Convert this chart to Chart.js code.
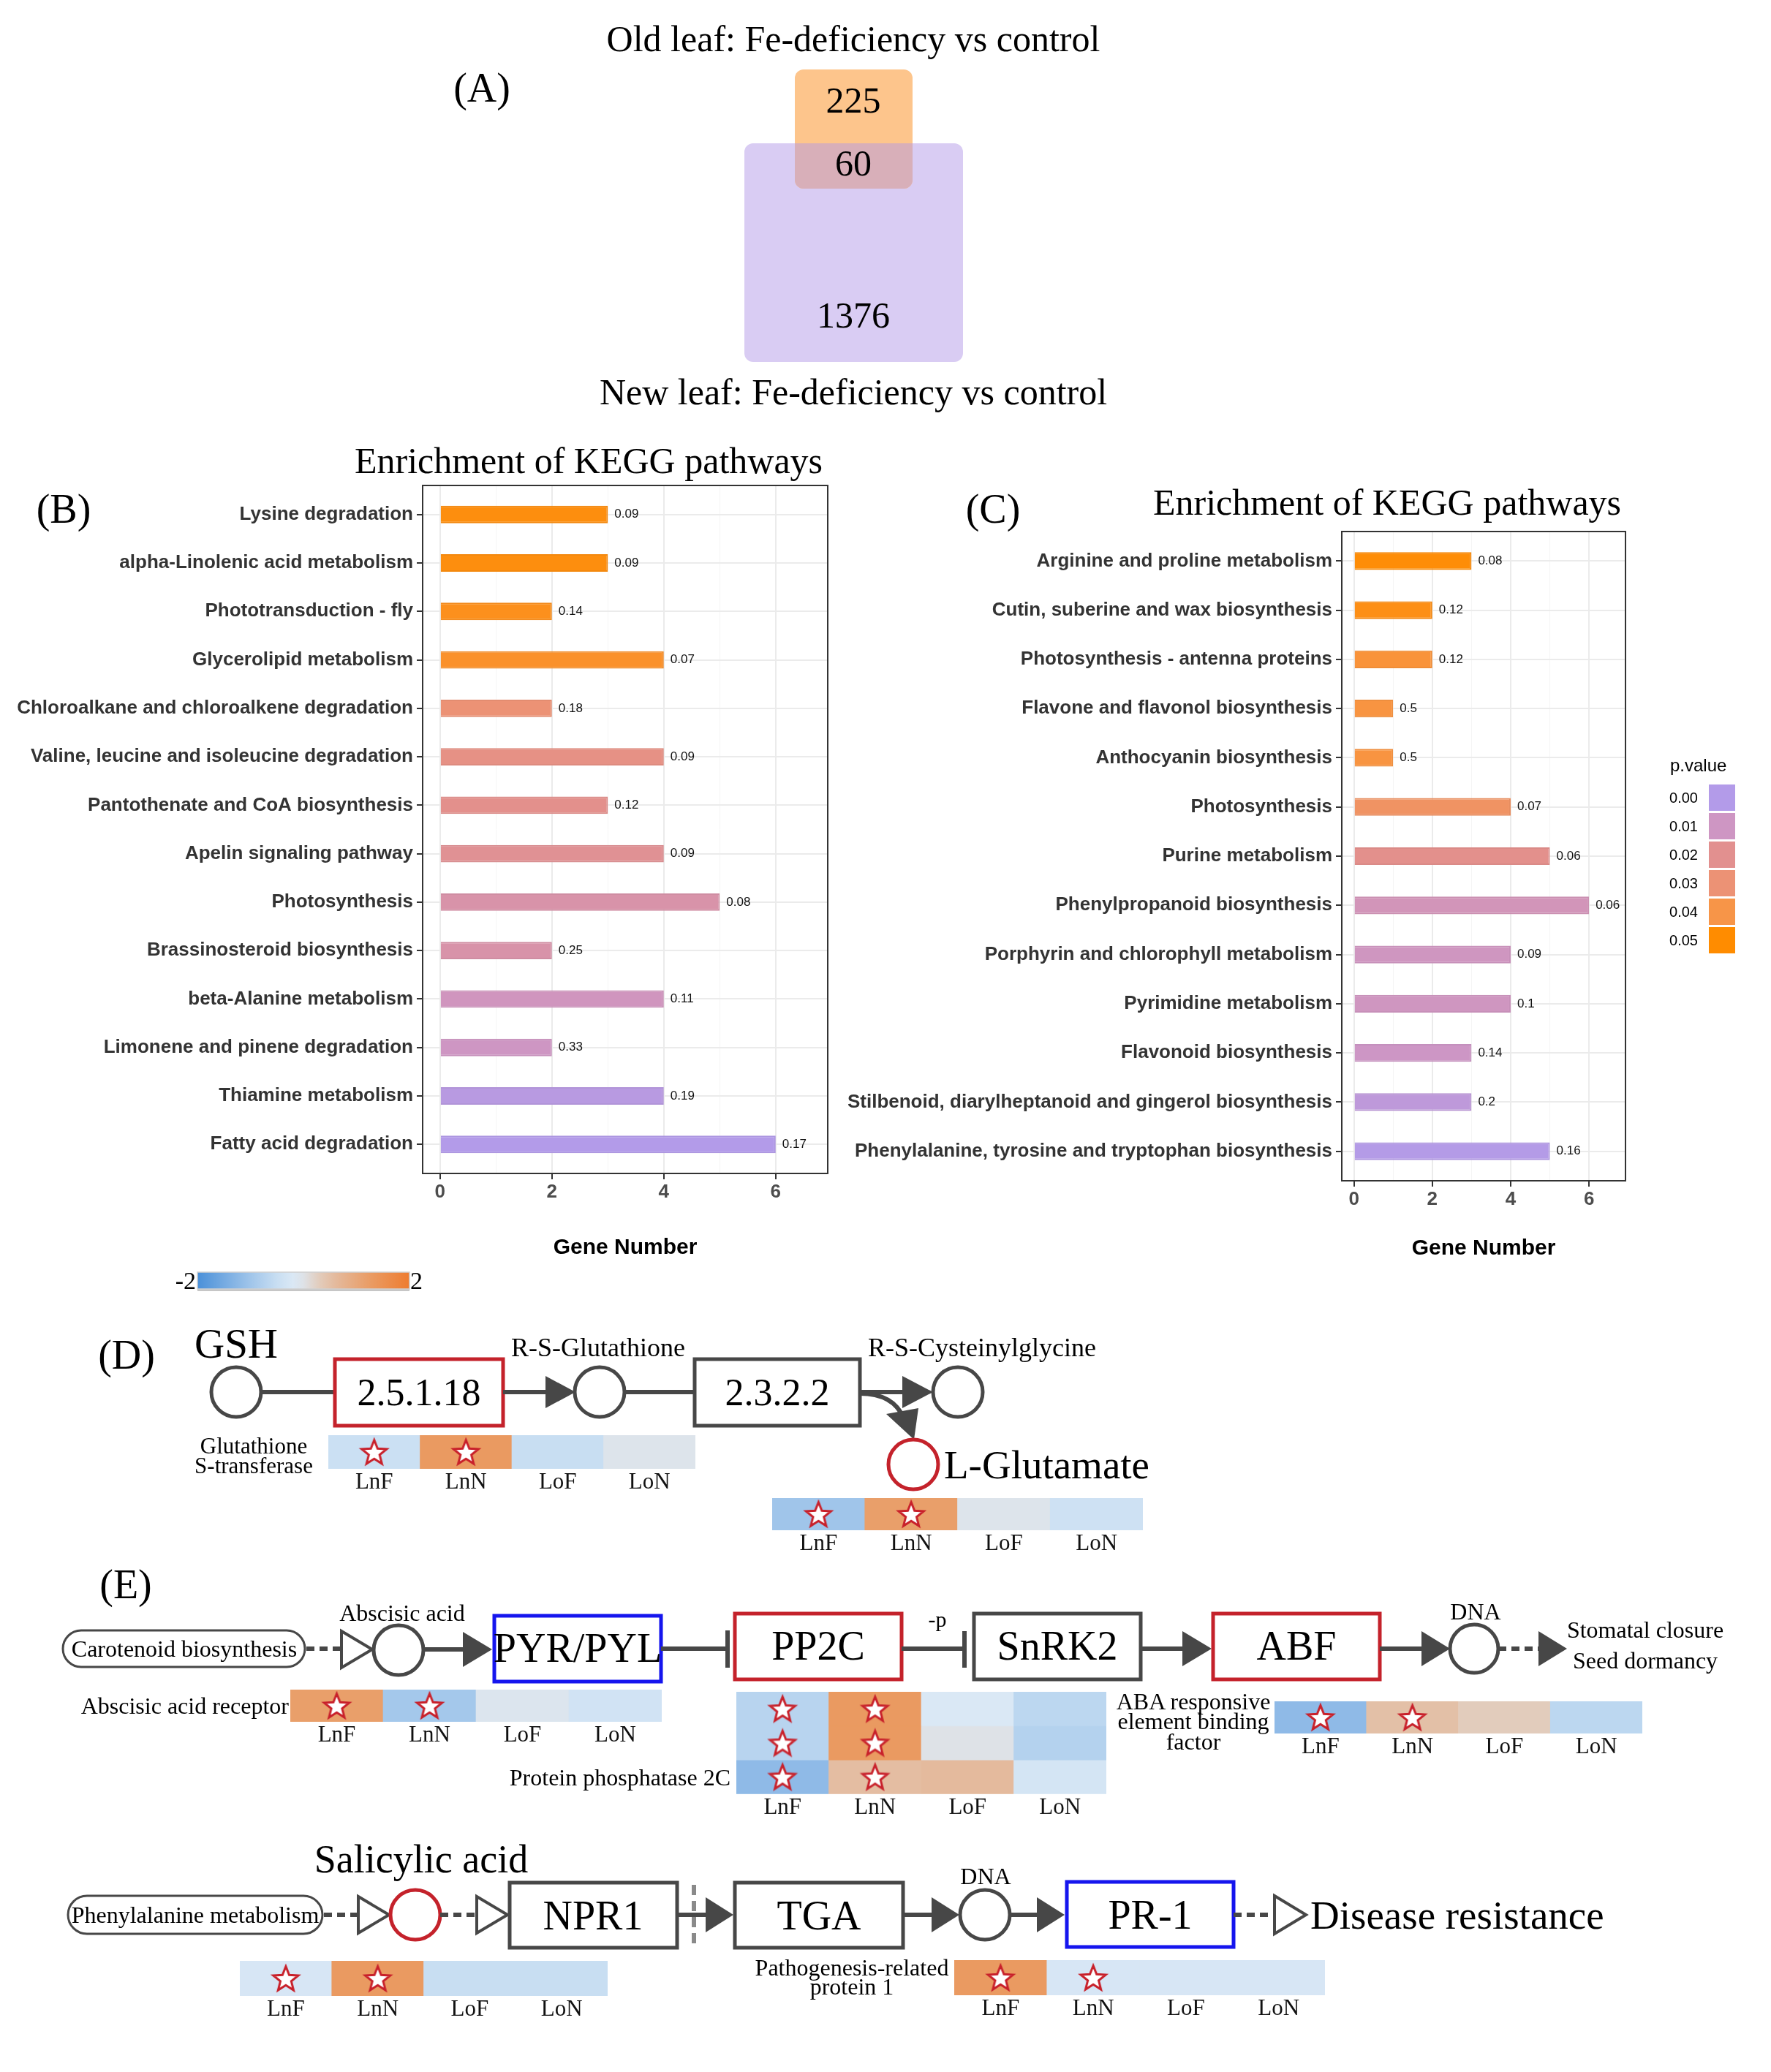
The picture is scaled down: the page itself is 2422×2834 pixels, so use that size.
<!DOCTYPE html>
<html lang="en">
<head>
<meta charset="UTF-8">
<title>Fe-deficiency: DEGs, KEGG enrichment and pathways</title>
<script src="https://cdn.jsdelivr.net/npm/chart.js"></script>
<style>
  html, body { margin: 0; padding: 0; background: #fff; }
  #page { position: relative; width: 2422px; height: 2834px; overflow: hidden; background: #fff; }
  .holder { position: absolute; }
  #art { position: absolute; left: 0; top: 0; pointer-events: none; }
  #art text { font-family: 'Liberation Serif', 'Times New Roman', serif; fill: #000; }
  #art .sans { font-family: 'Liberation Sans', Arial, sans-serif; }
  .ln { stroke: #474747; stroke-width: 6; fill: none; }
  .dash { stroke-dasharray: 11 7; }
  .node { fill: #fff; stroke: #474747; stroke-width: 5; }
  .pill { fill: #fff; stroke: #474747; stroke-width: 3; }
  .red { stroke: #C4222B; }
  .blue { stroke: #1515EE; }
  .head { fill: #474747; }
  .open { fill: #fff; stroke: #474747; stroke-width: 4; stroke-linejoin: miter; }
</style>
</head>
<body>
<div id="page">
  <div class="holder" style="left:0;top:640px;width:1160px;height:1085px"><canvas id="chartB"></canvas></div>
  <div class="holder" style="left:1160px;top:700px;width:1080px;height:1026px"><canvas id="chartC"></canvas></div>

  <svg id="art" width="2422" height="2834" xmlns="http://www.w3.org/2000/svg">
    <defs>
      <linearGradient id="heatGrad" x1="0" x2="1" y1="0" y2="0"></linearGradient>
      <clipPath id="newClip"><rect x="1018" y="196" width="299" height="299" rx="12"/></clipPath>
    </defs>

    <!-- (A) -->
    <text x="659" y="139" font-size="56" text-anchor="middle">(A)</text>
    <g id="venn"></g>

    <!-- (B) / (C) titles -->
    <text x="87" y="715" font-size="56" text-anchor="middle">(B)</text>
    <text x="805" y="647" font-size="50" text-anchor="middle">Enrichment of KEGG pathways</text>
    <text x="1358" y="715" font-size="56" text-anchor="middle">(C)</text>
    <text x="1897" y="704" font-size="50" text-anchor="middle">Enrichment of KEGG pathways</text>
    <g id="pLegend"></g>

    <!-- colour key -->
    <rect x="270" y="1762" width="290" height="4" fill="#c6c6c6"/>
    <rect x="270" y="1740" width="290" height="23" fill="url(#heatGrad)" stroke="#d0d0d0" stroke-width="1.5"/>
    <text x="268" y="1763" font-size="34" text-anchor="end">-2</text>
    <text x="561" y="1763" font-size="34">2</text>

    <!-- (D) glutathione metabolism -->
    <text x="173" y="1872" font-size="56" text-anchor="middle">(D)</text>
    <text x="323" y="1857" font-size="57" text-anchor="middle">GSH</text>
    <line class="ln" x1="357" y1="1904" x2="458" y2="1904"/>
    <circle class="node" cx="323" cy="1904" r="34"/>
    <rect class="node red" x="458" y="1859" width="230" height="91"/>
    <text x="573" y="1922" font-size="52" text-anchor="middle">2.5.1.18</text>
    <line class="ln" x1="688" y1="1904" x2="750" y2="1904"/>
    <polygon class="head" points="746,1882 787,1904 746,1926"/>
    <circle class="node" cx="820" cy="1904" r="34"/>
    <text x="818" y="1855" font-size="36" text-anchor="middle">R-S-Glutathione</text>
    <line class="ln" x1="854" y1="1904" x2="950" y2="1904"/>
    <rect class="node" x="950" y="1859" width="226" height="91"/>
    <text x="1063" y="1922" font-size="52" text-anchor="middle">2.3.2.2</text>
    <line class="ln" x1="1176" y1="1904" x2="1238" y2="1904"/>
    <polygon class="head" points="1234,1882 1276,1904 1234,1926"/>
    <circle class="node" cx="1310" cy="1904" r="34"/>
    <text x="1343" y="1855" font-size="36" text-anchor="middle">R-S-Cysteinylglycine</text>
    <path class="ln" d="M1176,1906 Q1222,1906 1236,1940"/>
    <polygon class="head" points="1212,1934 1256,1926 1250,1969"/>
    <circle class="node red" cx="1249" cy="2003" r="34"/>
    <text x="1291" y="2022" font-size="55">L-Glutamate</text>
    <text x="347" y="1988" font-size="31" text-anchor="middle">Glutathione</text>
    <text x="347" y="2015" font-size="31" text-anchor="middle">S-transferase</text>

    <!-- (E) ABA signalling -->
    <text x="172" y="2186" font-size="56" text-anchor="middle">(E)</text>
    <rect class="pill" x="86" y="2230" width="331" height="50" rx="25"/>
    <text x="252" y="2266" font-size="32" text-anchor="middle">Carotenoid biosynthesis</text>
    <line class="ln dash" x1="419" y1="2255" x2="467" y2="2255"/>
    <polygon class="open" points="467,2231 509,2256 467,2281"/>
    <circle class="node" cx="545" cy="2257" r="34"/>
    <text x="550" y="2217" font-size="32" text-anchor="middle">Abscisic acid</text>
    <line class="ln" x1="579" y1="2256" x2="636" y2="2256"/>
    <polygon class="head" points="633,2232 673,2256 633,2280"/>
    <rect class="node blue" x="676" y="2210" width="228" height="90"/>
    <text x="790" y="2273" font-size="56" text-anchor="middle">PYR/PYL</text>
    <line class="ln" x1="904" y1="2255" x2="995" y2="2255"/>
    <line class="ln" x1="995" y1="2230" x2="995" y2="2281"/>
    <rect class="node red" x="1005" y="2207" width="228" height="90"/>
    <text x="1119" y="2270" font-size="56" text-anchor="middle">PP2C</text>
    <text x="1282" y="2225" font-size="30" text-anchor="middle">-p</text>
    <line class="ln" x1="1233" y1="2255" x2="1319" y2="2255"/>
    <line class="ln" x1="1319" y1="2231" x2="1319" y2="2281"/>
    <rect class="node" x="1332" y="2207" width="228" height="90"/>
    <text x="1446" y="2270" font-size="56" text-anchor="middle">SnRK2</text>
    <line class="ln" x1="1560" y1="2255" x2="1620" y2="2255"/>
    <polygon class="head" points="1617,2231 1657,2255 1617,2279"/>
    <rect class="node red" x="1659" y="2207" width="228" height="90"/>
    <text x="1773" y="2270" font-size="56" text-anchor="middle">ABF</text>
    <line class="ln" x1="1887" y1="2255" x2="1946" y2="2255"/>
    <polygon class="head" points="1944,2231 1983,2255 1944,2279"/>
    <circle class="node" cx="2016" cy="2255" r="33"/>
    <text x="2018" y="2215" font-size="32" text-anchor="middle">DNA</text>
    <line class="ln dash" x1="2049" y1="2255" x2="2106" y2="2255"/>
    <polygon class="head" points="2104,2231 2143,2255 2104,2279"/>
    <text x="2250" y="2240" font-size="32" text-anchor="middle">Stomatal closure</text>
    <text x="2250" y="2282" font-size="32" text-anchor="middle">Seed dormancy</text>
    <text x="395" y="2344" font-size="32" text-anchor="end">Abscisic acid receptor</text>
    <text x="999" y="2442" font-size="32" text-anchor="end">Protein phosphatase 2C</text>
    <text x="1632" y="2338" font-size="32" text-anchor="middle">ABA responsive</text>
    <text x="1632" y="2365" font-size="32" text-anchor="middle">element binding</text>
    <text x="1632" y="2393" font-size="32" text-anchor="middle">factor</text>

    <!-- salicylic acid signalling -->
    <text x="576" y="2561" font-size="54" text-anchor="middle">Salicylic acid</text>
    <rect class="pill" x="93" y="2593" width="348" height="52" rx="26"/>
    <text x="267" y="2630" font-size="32" text-anchor="middle">Phenylalanine metabolism</text>
    <line class="ln dash" x1="443" y1="2619" x2="490" y2="2619"/>
    <polygon class="open" points="490,2594 532,2619 490,2644"/>
    <circle class="node red" cx="568" cy="2619" r="34"/>
    <line class="ln dash" x1="602" y1="2619" x2="652" y2="2619"/>
    <polygon class="open" points="652,2594 694,2619 652,2644"/>
    <rect class="node" x="697" y="2575" width="229" height="89"/>
    <text x="811" y="2639" font-size="56" text-anchor="middle">NPR1</text>
    <line x1="949" y1="2578" x2="949" y2="2658" stroke="#8a8a8a" stroke-width="6" stroke-dasharray="14 8"/>
    <line class="ln" x1="926" y1="2619" x2="967" y2="2619"/>
    <polygon class="head" points="965,2595 1003,2619 965,2643"/>
    <rect class="node" x="1005" y="2575" width="230" height="89"/>
    <text x="1120" y="2639" font-size="56" text-anchor="middle">TGA</text>
    <line class="ln" x1="1235" y1="2619" x2="1276" y2="2619"/>
    <polygon class="head" points="1274,2595 1312,2619 1274,2643"/>
    <circle class="node" cx="1347" cy="2619" r="34"/>
    <text x="1348" y="2577" font-size="32" text-anchor="middle">DNA</text>
    <line class="ln" x1="1381" y1="2619" x2="1420" y2="2619"/>
    <polygon class="head" points="1418,2595 1456,2619 1418,2643"/>
    <rect class="node blue" x="1459" y="2574" width="228" height="89"/>
    <text x="1573" y="2638" font-size="56" text-anchor="middle">PR-1</text>
    <line class="ln dash" x1="1687" y1="2619" x2="1743" y2="2619"/>
    <polygon class="open" points="1743,2593 1786,2619 1743,2645"/>
    <text x="1792" y="2638" font-size="55">Disease resistance</text>
    <text x="1165" y="2702" font-size="32" text-anchor="middle">Pathogenesis-related</text>
    <text x="1165" y="2728" font-size="32" text-anchor="middle">protein 1</text>
  </svg>
</div>

<script>
  // ---------- data ----------
  const vennSets = ['Old leaf: Fe-deficiency vs control', 'New leaf: Fe-deficiency vs control'];
  const vennCounts = [225, 60, 1376];   // old only, shared, new only

  const pathwaysB = ['Lysine degradation', 'alpha-Linolenic acid metabolism', 'Phototransduction - fly',
    'Glycerolipid metabolism', 'Chloroalkane and chloroalkene degradation',
    'Valine, leucine and isoleucine degradation', 'Pantothenate and CoA biosynthesis',
    'Apelin signaling pathway', 'Photosynthesis', 'Brassinosteroid biosynthesis',
    'beta-Alanine metabolism', 'Limonene and pinene degradation', 'Thiamine metabolism',
    'Fatty acid degradation'];
  const genesB = [3, 3, 2, 4, 2, 4, 3, 4, 5, 2, 4, 2, 4, 6];
  const ratioB = ['0.09', '0.09', '0.14', '0.07', '0.18', '0.09', '0.12', '0.09', '0.08', '0.25', '0.11', '0.33', '0.19', '0.17'];
  const pvalB = [0.048, 0.048, 0.046, 0.044, 0.030, 0.024, 0.021, 0.019, 0.015, 0.015, 0.011, 0.010, 0.002, 0.000];

  const pathwaysC = ['Arginine and proline metabolism', 'Cutin, suberine and wax biosynthesis',
    'Photosynthesis - antenna proteins', 'Flavone and flavonol biosynthesis',
    'Anthocyanin biosynthesis', 'Photosynthesis', 'Purine metabolism',
    'Phenylpropanoid biosynthesis', 'Porphyrin and chlorophyll metabolism',
    'Pyrimidine metabolism', 'Flavonoid biosynthesis',
    'Stilbenoid, diarylheptanoid and gingerol biosynthesis',
    'Phenylalanine, tyrosine and tryptophan biosynthesis'];
  const genesC = [3, 2, 2, 1, 1, 4, 5, 6, 4, 4, 3, 3, 5];
  const ratioC = ['0.08', '0.12', '0.12', '0.5', '0.5', '0.07', '0.06', '0.06', '0.09', '0.1', '0.14', '0.2', '0.16'];
  const pvalC = [0.049, 0.047, 0.042, 0.041, 0.041, 0.034, 0.021, 0.012, 0.0105, 0.0105, 0.0095, 0.004, 0.0005];

  const pLegendTicks = [0.00, 0.01, 0.02, 0.03, 0.04, 0.05];
  const xTicks = [0, 1, 2, 3, 4, 5, 6];

  // heatmaps: log2 fold change per sample, and significance stars
  const conditions = ['LnF', 'LnN', 'LoF', 'LoN'];
  const gstFC = [[-0.45, 1.3, -0.5, -0.05]];
  const gstSig = [[1, 1, 0, 0]];
  const gluFC = [[-1.0, 1.2, -0.05, -0.4]];
  const gluSig = [[1, 1, 0, 0]];
  const abaRecFC = [[1.2, -0.95, -0.1, -0.35]];
  const abaRecSig = [[1, 1, 0, 0]];
  const pp2cFC = [[-0.7, 1.3, -0.2, -0.65], [-0.7, 1.3, 0.0, -0.75], [-1.2, 0.55, 0.6, -0.3]];
  const pp2cSig = [[1, 1, 0, 0], [1, 1, 0, 0], [1, 1, 0, 0]];
  const abfFC = [[-1.2, 0.5, 0.3, -0.65]];
  const abfSig = [[1, 1, 0, 0]];
  const saFC = [[-0.25, 1.3, -0.5, -0.5]];
  const saSig = [[1, 1, 0, 0]];
  const pr1FC = [[1.3, -0.25, -0.25, -0.25]];
  const pr1Sig = [[1, 1, 0, 0]];

  // ---------- colours ----------
  const pColorStops = [[0.00, [179, 155, 233]], [0.01, [206, 150, 195]], [0.02, [226, 144, 143]],
                       [0.03, [236, 146, 117]], [0.04, [247, 149, 72]], [0.05, [255, 140, 0]]];
  const heatStops = [[-2, [74, 144, 217]], [-1, [160, 197, 234]], [-0.5, [200, 222, 242]],
                     [-0.2, [218, 232, 245]], [0, [222, 226, 231]], [0.3, [226, 204, 188]],
                     [0.6, [228, 186, 157]], [1.3, [234, 154, 97]], [2, [238, 124, 48]]];

  function ramp(stops, v) {
    if (v <= stops[0][0]) return stops[0][1];
    for (let i = 1; i < stops.length; i++) {
      if (v <= stops[i][0]) {
        const t = (v - stops[i - 1][0]) / (stops[i][0] - stops[i - 1][0]);
        return stops[i][1].map((c, j) => stops[i - 1][1][j] + t * (c - stops[i - 1][1][j]));
      }
    }
    return stops[stops.length - 1][1];
  }
  const rgb = (c, k) => `rgb(${c.map(x => Math.round(x * (k || 1))).join(',')})`;
  const pColor = p => rgb(ramp(pColorStops, p));
  const pBorder = p => rgb(ramp(pColorStops, p), 0.96);
  const heatColor = v => rgb(ramp(heatStops, v));

  // ---------- svg parts: venn, p legend, colour key ----------
  const NS = 'http://www.w3.org/2000/svg';
  function el(tag, attrs, text, parent) {
    const e = document.createElementNS(NS, tag);
    for (const k in attrs) e.setAttribute(k, attrs[k]);
    if (text !== undefined) e.textContent = text;
    parent.appendChild(e);
    return e;
  }

  const venn = document.getElementById('venn');
  el('text', {x: 1167, y: 70, 'font-size': 50, 'text-anchor': 'middle'}, vennSets[0], venn);
  el('rect', {x: 1018, y: 196, width: 299, height: 299, rx: 12, fill: '#D9CCF3'}, undefined, venn);
  el('rect', {x: 1087, y: 95, width: 161, height: 163, rx: 12, fill: '#FDC58C'}, undefined, venn);
  el('rect', {x: 1087, y: 95, width: 161, height: 163, rx: 12, fill: '#D8AFB9', 'clip-path': 'url(#newClip)'}, undefined, venn);
  el('text', {x: 1167, y: 154, 'font-size': 50, 'text-anchor': 'middle'}, vennCounts[0], venn);
  el('text', {x: 1167, y: 240, 'font-size': 50, 'text-anchor': 'middle'}, vennCounts[1], venn);
  el('text', {x: 1167, y: 448, 'font-size': 50, 'text-anchor': 'middle'}, vennCounts[2], venn);
  el('text', {x: 1167, y: 553, 'font-size': 50, 'text-anchor': 'middle'}, vennSets[1], venn);

  const leg = document.getElementById('pLegend');
  el('text', {x: 2284, y: 1055, 'font-size': 24, class: 'sans', fill: '#111'}, 'p.value', leg);
  pLegendTicks.forEach((p, i) => {
    const top = 1073 + i * 39;
    el('rect', {x: 2337, y: top, width: 36, height: 36, fill: pColor(p)}, undefined, leg);
    el('text', {x: 2322, y: top + 25, 'font-size': 20, 'text-anchor': 'end', class: 'sans', fill: '#111'}, p.toFixed(2), leg);
  });

  const grad = document.getElementById('heatGrad');
  heatStops.forEach(([v, c]) => el('stop', {offset: ((v + 2) / 4).toFixed(3), 'stop-color': rgb(c)}, undefined, grad));

  // ---------- KEGG bar charts ----------
  Chart.defaults.font.family = "'Liberation Sans', Arial, sans-serif";

  const panelBox = {
    id: 'panelBox',
    afterDatasetsDraw(chart, args, opts) {
      const {ctx, chartArea: a} = chart;
      ctx.save();
      ctx.strokeStyle = '#333';
      ctx.lineWidth = 2;
      ctx.strokeRect(a.left, a.top, a.right - a.left, a.bottom - a.top);
      ctx.font = "17px 'Liberation Sans', Arial, sans-serif";
      ctx.fillStyle = '#111';
      ctx.textBaseline = 'middle';
      chart.getDatasetMeta(0).data.forEach((bar, i) => ctx.fillText(opts.labels[i], bar.x + 9, bar.y));
      ctx.restore();
    }
  };

  function keggChart(id, names, genes, ratios, pvals, frame) {
    return new Chart(document.getElementById(id), {
      type: 'bar',
      data: {
        datasets: [{
          data: genes.map((g, i) => ({x: g, y: i})),
          backgroundColor: pvals.map(pColor),
          borderColor: pvals.map(pBorder),
          borderWidth: 2,
          barPercentage: 0.36,
          categoryPercentage: 1
        }]
      },
      options: {
        indexAxis: 'y',
        animation: false,
        events: [],
        responsive: true,
        maintainAspectRatio: false,
        layout: {autoPadding: false, padding: {top: frame.top, right: frame.right, left: 0, bottom: 0}},
        plugins: {legend: {display: false}, tooltip: {enabled: false}, panelBox: {labels: ratios}},
        scales: {
          x: {
            type: 'linear', min: -0.31, max: 6.93,
            afterBuildTicks: s => { s.ticks = xTicks.map(v => ({value: v})); },
            ticks: {callback: v => (v % 2 === 0 ? v : ''), font: {size: 26, weight: 'bold'}, color: '#4d4d4d', padding: 2, autoSkip: false, maxRotation: 0},
            grid: {
              color: c => (c.tick && c.tick.value % 2 === 0 ? '#ebebeb' : '#f5f5f5'),
              lineWidth: c => (c.tick && c.tick.value % 2 === 0 ? 2 : 1),
              tickColor: c => (c.tick && c.tick.value % 2 === 0 ? '#333' : 'rgba(0,0,0,0)'),
              tickLength: 8, tickWidth: 2
            },
            border: {display: false},
            title: {display: true, text: 'Gene Number', color: '#000', font: {size: 30, weight: 'bold'}, padding: {top: 0, bottom: 0}},
            afterFit: s => { s.height = frame.xAxis; }
          },
          y: {
            type: 'linear', reverse: true, offset: false, min: -0.6, max: names.length - 0.4,
            afterBuildTicks: s => { s.ticks = names.map((n, i) => ({value: i})); },
            ticks: {callback: v => names[v], font: {size: 26, weight: 'bold'}, color: '#333', padding: 5, autoSkip: false},
            grid: {offset: false, color: '#ebebeb', lineWidth: 2, tickColor: '#333', tickLength: 8, tickWidth: 2},
            border: {display: false},
            afterFit: s => { s.width = frame.yAxis; }
          }
        }
      },
      plugins: [panelBox]
    });
  }

  keggChart('chartB', pathwaysB, genesB, ratioB, pvalB, {top: 24, right: 28, xAxis: 120, yAxis: 578});
  keggChart('chartC', pathwaysC, genesC, ratioC, pvalC, {top: 27, right: 17, xAxis: 111, yAxis: 675});

  // ---------- heatmaps ----------
  const starImg = document.createElement('canvas');
  starImg.width = 44; starImg.height = 44;
  (function () {
    const sc = starImg.getContext('2d');
    sc.beginPath();
    for (let k = 0; k < 10; k++) {
      const r = k % 2 ? 7.8 : 18;
      const a = -Math.PI / 2 + k * Math.PI / 5;
      sc.lineTo(22 + r * Math.cos(a), 23.5 + r * Math.sin(a));
    }
    sc.closePath();
    sc.fillStyle = '#fff';
    sc.fill();
    sc.strokeStyle = '#C8202A';
    sc.lineWidth = 3;
    sc.stroke();
  })();

  const heatLayout = [
    {fc: gstFC, sig: gstSig, left: 449, top: 1963, width: 502, rowH: 46},
    {fc: gluFC, sig: gluSig, left: 1056, top: 2049, width: 507, rowH: 44},
    {fc: abaRecFC, sig: abaRecSig, left: 397, top: 2311, width: 508, rowH: 44},
    {fc: pp2cFC, sig: pp2cSig, left: 1007, top: 2314, width: 506, rowH: 46.3},
    {fc: abfFC, sig: abfSig, left: 1743, top: 2327, width: 503, rowH: 44},
    {fc: saFC, sig: saSig, left: 328, top: 2682, width: 503, rowH: 48},
    {fc: pr1FC, sig: pr1Sig, left: 1305, top: 2681, width: 507, rowH: 48}
  ];

  const page = document.getElementById('page');
  const labelBand = 44;
  heatLayout.forEach(h => {
    const rows = h.fc.length;
    const holder = document.createElement('div');
    holder.className = 'holder';
    holder.style.cssText = `left:${h.left}px;top:${h.top}px;width:${h.width}px;height:${rows * h.rowH + labelBand}px`;
    const cv = document.createElement('canvas');
    holder.appendChild(cv);
    page.insertBefore(holder, document.getElementById('art'));

    const cells = h.fc.map((vals, r) => ({
      type: 'bar',
      data: vals.map(() => [r, r + 1]),
      backgroundColor: vals.map(heatColor),
      borderWidth: 0,
      grouped: false,
      categoryPercentage: 1,
      barPercentage: 1,
      order: 2
    }));
    const stars = h.sig.map((marks, r) => ({
      type: 'line',
      data: marks.map(m => (m ? r + 0.5 : null)),
      showLine: false,
      pointStyle: starImg,
      pointRadius: 18,
      order: 1
    }));

    new Chart(cv, {
      type: 'bar',
      data: {labels: conditions, datasets: cells.concat(stars)},
      options: {
        animation: false,
        events: [],
        responsive: true,
        maintainAspectRatio: false,
        layout: {autoPadding: false, padding: 0},
        plugins: {legend: {display: false}, tooltip: {enabled: false}},
        scales: {
          x: {
            type: 'category', offset: true,
            grid: {display: false, drawTicks: false},
            border: {display: false},
            ticks: {font: {family: "'Liberation Serif', 'Times New Roman', serif", size: 31}, color: '#111', padding: 0, maxRotation: 0, autoSkip: false},
            afterFit: s => { s.height = labelBand; }
          },
          y: {display: false, min: 0, max: rows, reverse: true}
        }
      }
    });
  });
</script>
</body>
</html>
